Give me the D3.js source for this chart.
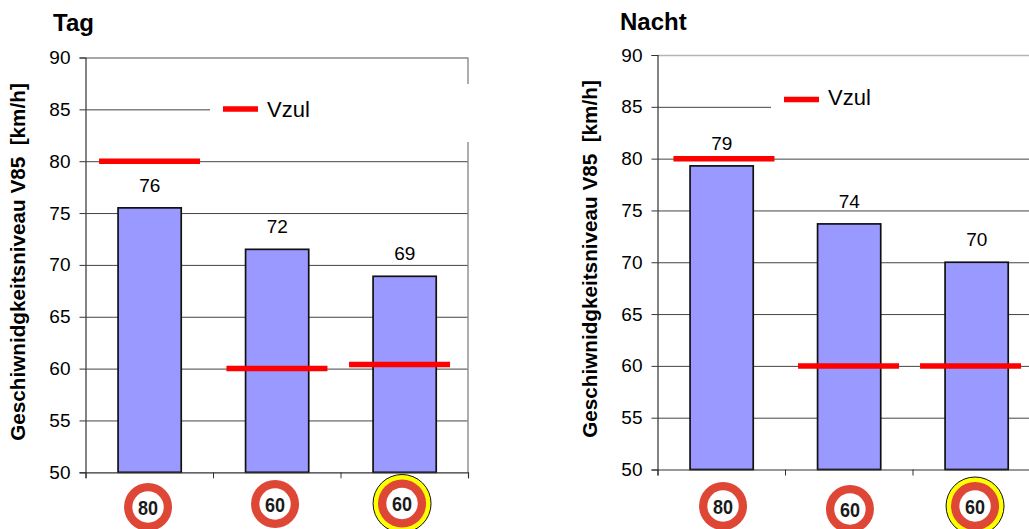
<!DOCTYPE html>
<html><head><meta charset="utf-8">
<script src="https://d3js.org/d3.v7.min.js"></script>
<style>
html,body{margin:0;padding:0;background:#fff}
svg{display:block}
text{font-family:"Liberation Sans",Arial,sans-serif;fill:#000}
</style></head><body>
<svg id="c" width="1029" height="529"></svg>
<script>
// --- data ---
const categories = ["80", "60", "60 Z"];
const signNumbers = ["80", "60", "60"];
const yTicks = [50, 55, 60, 65, 70, 75, 80, 85, 90];
const tagV85 = [75.5, 71.5, 68.9];
const tagLabels = ["76", "72", "69"];
const tagVzul = [80, 60, 60.4];
const nachtV85 = [79.3, 73.7, 70];
const nachtLabels = ["79", "74", "70"];
const nachtVzul = [80, 60, 60];
const yTitle = "Geschiwnidgkeitsniveau V85  [km/h]";
const legendLabel = "Vzul";

// --- layout ---
const panels = [
  {title:"Tag", v85:tagV85, labels:tagLabels, vzul:tagVzul,
   x0:85.5, x1:468, yTop:57.5, yBot:472.3, titleX:53, titleY:31, yTitleX:25, yTitleC:262,
   vzulDx:[0.3,0.2,-4.7], signDx:[-1.2,-1.7,-2.2], signCy:[507,504,503.5],
   mask:{x:210,y:84,w:270,h:58}, legY:109, legX:223, legDy:7.7, frame:true, topColor:"#8a8a8a"},
  {title:"Nacht", v85:nachtV85, labels:nachtLabels, vzul:nachtVzul,
   x0:657.5, x1:1040, yTop:55, yBot:469.5, titleX:620, titleY:30, yTitleX:597, yTitleC:259,
   vzulDx:[2.7,-0.2,-5.7], signDx:[1.8,1.2,-1.2], signCy:[506,509,506],
   mask:{x:771,y:78,w:270,h:56}, legY:99.5, legX:784, legDy:5.7, frame:false, topColor:"#b5b5b5"}
];
const svg = d3.select("#c");

panels.forEach(p=>{
  const g = svg.append("g");
  const x = d3.scaleBand().domain(categories).range([p.x0,p.x1]).padding(0);
  const xEdge = d3.scaleLinear().domain([0,categories.length]).range([p.x0,p.x1]);
  const y = d3.scaleLinear().domain([50,90]).range([p.yBot,p.yTop]);
  const w = p.x1-p.x0;

  // gridlines
  const grid = g.append("g").attr("transform",`translate(${p.x0},0)`)
    .call(d3.axisLeft(y).tickValues(yTicks.slice(1)).tickSize(-w).tickFormat(""));
  grid.select(".domain").remove();
  grid.selectAll("line").attr("stroke",d=>d===90?p.topColor:"#444").attr("stroke-width",d=>d===90?1.4:1);

  // right frame
  if(p.frame) g.append("line").attr("x1",p.x1).attr("x2",p.x1).attr("y1",y(90)).attr("y2",y(50))
    .attr("stroke","#8a8a8a").attr("stroke-width",1.4);

  // legend mask
  g.append("rect").attr("x",p.mask.x).attr("y",p.mask.y).attr("width",p.mask.w).attr("height",p.mask.h).attr("fill","#fff");

  // bars
  g.selectAll("rect.bar").data(categories).join("rect").attr("class","bar")
    .attr("x",d=>x(d)+x.bandwidth()*0.25+0.7).attr("width",x.bandwidth()*0.5-0.6)
    .attr("y",(d,i)=>y(p.v85[i])).attr("height",(d,i)=>y(50)-y(p.v85[i]))
    .attr("fill","#9999ff").attr("stroke","#111").attr("stroke-width",1.7);

  // y axis
  const ya = g.append("g").attr("transform",`translate(${p.x0},0)`)
    .call(d3.axisLeft(y).tickValues(yTicks).tickSize(6).tickPadding(9));
  ya.select(".domain").attr("stroke","#333").attr("stroke-width",1.2);
  ya.selectAll("line").attr("stroke","#333");
  ya.selectAll("text").style("font-size","19px").style("font-family",'"Liberation Sans"').attr("fill","#000");

  // x axis
  const xa = g.append("g").attr("transform",`translate(0,${p.yBot})`)
    .call(d3.axisBottom(xEdge).tickValues(d3.range(categories.length+1)).tickSize(6).tickFormat(""));
  xa.select(".domain").attr("stroke","#333").attr("stroke-width",1.2);
  xa.selectAll("line").attr("stroke","#333");

  // value labels
  g.selectAll("text.val").data(p.labels).join("text").attr("class","val")
    .attr("x",(d,i)=>x(categories[i])+x.bandwidth()/2+0.5)
    .attr("y",(d,i)=>y(p.v85[i])-16)
    .attr("text-anchor","middle").style("font-size","19px").text(d=>d);

  // Vzul markers
  g.selectAll("line.vzul").data(p.vzul).join("line").attr("class","vzul")
    .attr("x1",(d,i)=>x(categories[i])+x.bandwidth()/2+p.vzulDx[i]-50.5)
    .attr("x2",(d,i)=>x(categories[i])+x.bandwidth()/2+p.vzulDx[i]+50.5)
    .attr("y1",d=>y(d)).attr("y2",d=>y(d))
    .attr("stroke","#ff0000").attr("stroke-width",5.5);

  // legend
  g.append("line").attr("x1",p.legX).attr("x2",p.legX+35).attr("y1",p.legY).attr("y2",p.legY)
    .attr("stroke","#ff0000").attr("stroke-width",5.5);
  g.append("text").attr("x",p.legX+44).attr("y",p.legY+p.legDy)
    .style("font-size","22px").text(legendLabel);

  // titles
  g.append("text").attr("x",p.titleX).attr("y",p.titleY)
    .style("font-size","24px").style("font-weight","bold").text(p.title);
  g.append("text").attr("transform",`translate(${p.yTitleX},${p.yTitleC}) rotate(-90)`)
    .attr("text-anchor","middle").style("font-size","20.7px").style("font-weight","bold")
    .style("white-space","pre").text(yTitle);

  // speed signs
  const sign = g.selectAll("g.sign").data(categories).join("g").attr("class","sign")
    .attr("transform",(d,i)=>`translate(${x(d)+x.bandwidth()/2+p.signDx[i]},${p.signCy[i]})`);
  sign.filter((d,i)=>i===2).append("circle").attr("r",29).attr("fill","#ffff00").attr("stroke","#111").attr("stroke-width",1);
  sign.append("circle").attr("r",24).attr("fill","#de4636");
  sign.append("circle").attr("r",15.7).attr("fill","#fff");
  sign.append("text").attr("text-anchor","middle").attr("y",7.5)
    .attr("textLength",20).attr("lengthAdjust","spacingAndGlyphs")
    .style("font-weight","bold")
    .style("font-size","21px").style("fill","#1a1a1a")
    .text((d,i)=>signNumbers[i]);
});
</script>
</body></html>
